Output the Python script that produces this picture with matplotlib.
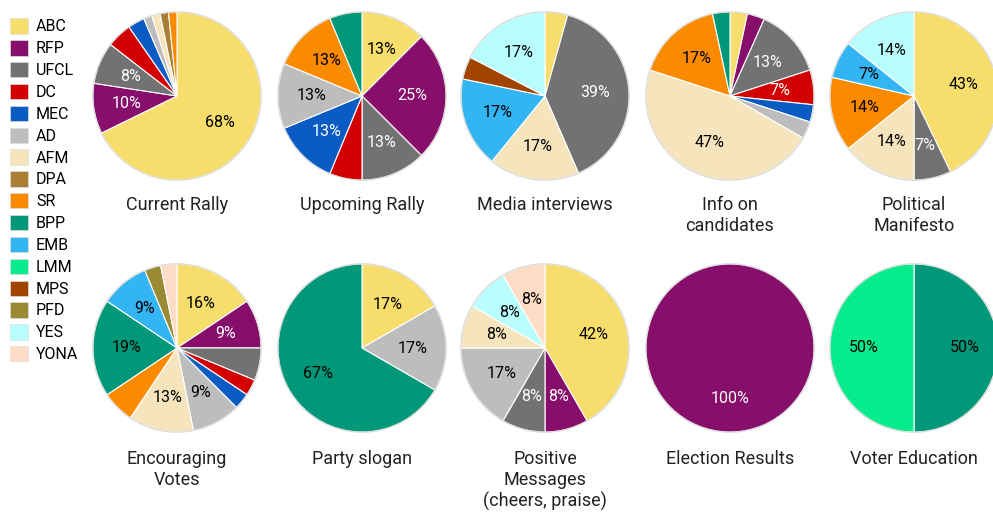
import matplotlib
matplotlib.use("Agg")
import matplotlib.pyplot as plt
from matplotlib.patches import Patch

plt.rcParams["font.family"] = ["Roboto", "DejaVu Sans"]

parties = ["ABC", "RFP", "UFCL", "DC", "MEC", "AD", "AFM", "DPA", "SR",
           "BPP", "EMB", "LMM", "MPS", "PFD", "YES", "YONA"]
colors = ["#F7DD6C", "#880E6B", "#727272", "#D20000", "#0A5CC4", "#BDBDBD",
          "#F6E5BC", "#AA7E35", "#FA8A00", "#009879", "#33B5F4", "#06EB8C",
          "#A04400", "#9A8A33", "#B9FEFE", "#FFDCC6"]
dark = {"RFP", "UFCL", "DC", "MEC"}

titles = ["Current Rally", "Upcoming Rally", "Media interviews",
          "Info on\ncandidates", "Political\nManifesto",
          "Encouraging\nVotes", "Party slogan",
          "Positive\nMessages\n(cheers, praise)", "Election Results",
          "Voter Education"]

# mention counts per category, in legend order of parties
current_rally = {"ABC": 42, "RFP": 6, "UFCL": 5, "DC": 3, "MEC": 2, "AD": 1,
                 "AFM": 1, "DPA": 1, "SR": 1}
upcoming_rally = {"ABC": 2, "RFP": 4, "UFCL": 2, "DC": 1, "MEC": 2, "AD": 2,
                  "SR": 2, "BPP": 1}
media_interviews = {"ABC": 1, "UFCL": 9, "AFM": 4, "EMB": 4, "MPS": 1, "YES": 4}
info_candidates = {"ABC": 1, "RFP": 1, "UFCL": 4, "DC": 2, "MEC": 1, "AD": 1,
                   "AFM": 14, "SR": 5, "BPP": 1}
manifesto = {"ABC": 6, "UFCL": 1, "AFM": 2, "SR": 2, "EMB": 1, "YES": 2}
encouraging = {"ABC": 5, "RFP": 3, "UFCL": 2, "DC": 1, "MEC": 1, "AD": 3,
               "AFM": 4, "SR": 2, "BPP": 6, "EMB": 3, "PFD": 1, "YONA": 1}
party_slogan = {"ABC": 1, "AD": 1, "BPP": 4}
positive = {"ABC": 5, "RFP": 1, "UFCL": 1, "AD": 2, "AFM": 1, "YES": 1, "YONA": 1}
election_results = {"RFP": 1}
voter_education = {"BPP": 1, "LMM": 1}

datasets = [current_rally, upcoming_rally, media_interviews, info_candidates,
            manifesto, encouraging, party_slogan, positive, election_results,
            voter_education]

W, H = 993, 513
fig = plt.figure(figsize=(W / 100, H / 100), dpi=100)

col_x = [177, 362, 545, 730, 914]
row_y = [96, 348]
title_y = [196, 450]
r = 85


def pct_label(p):
    return f"{int(p + 0.5)}%" if p > 6.5 else ""


for i, (data, title) in enumerate(zip(datasets, titles)):
    row, col = divmod(i, 5)
    cx, cy = col_x[col], row_y[row]
    ax = fig.add_axes([(cx - r) / W, 1 - (cy + r) / H, 2 * r / W, 2 * r / H])
    names = list(data.keys())
    vals = list(data.values())
    cols = [colors[parties.index(n)] for n in names]
    wedges, _, autotexts = ax.pie(
        vals, colors=cols, startangle=90, counterclock=False, radius=1,
        autopct=pct_label, pctdistance=0.6,
        wedgeprops=dict(edgecolor="white", linewidth=0.8),
        textprops=dict(fontsize=11.5))
    for n, t in zip(names, autotexts):
        t.set_color("white" if n in dark else "black")
    ax.add_patch(plt.Circle((0, 0), 1, fill=False, edgecolor="#dddddd", lw=1))
    ax.set_xlim(-1.01, 1.01)
    ax.set_ylim(-1.01, 1.01)
    ax.set_aspect("equal")
    ax.axis("off")
    fig.text(cx / W, 1 - title_y[row] / H, title, ha="center", va="top",
             fontsize=13, color="#222222", linespacing=1.2)

handles = [Patch(facecolor=c, edgecolor="#dddddd", lw=0.5) for c in colors]
fig.legend(handles, parties, loc="upper left",
           bbox_to_anchor=(0.0, 1 - 8 / H),
           frameon=False, fontsize=11.5, handlelength=1.1, handleheight=1.1,
           labelspacing=0.36, handletextpad=0.5, borderaxespad=0.45,
           borderpad=0.2)

fig.savefig("out.png", dpi=100, facecolor="white")
